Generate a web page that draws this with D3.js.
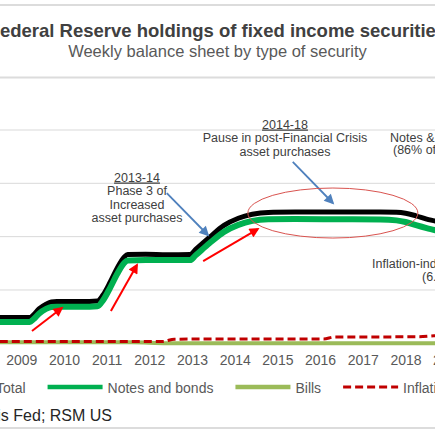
<!DOCTYPE html>
<html>
<head>
<meta charset="utf-8">
<script src="https://cdn.jsdelivr.net/npm/d3@7"></script>
<style>
  html, body { margin: 0; padding: 0; background: #fff; overflow: hidden; }
  svg { display: block; font-family: "Liberation Sans", Arial, sans-serif; }
</style>
</head>
<body>
<svg class="chart" width="435" height="435"></svg>
<script>
// weekly holdings ($ billions)
const dates = ['2008-07-01','2009-03-15','2009-04-15','2009-06-01','2009-08-01','2009-09-15','2009-11-01',
  '2010-06-01','2010-10-15','2010-12-01','2011-02-01','2011-04-01','2011-06-01','2011-07-01','2011-12-01',
  '2012-06-01','2012-12-15','2013-02-01','2013-06-01','2013-10-01','2014-02-01','2014-06-01','2014-10-15',
  '2015-06-01','2016-06-01','2017-06-01','2017-10-15','2018-01-01','2018-04-01','2018-07-01','2018-09-15','2018-12-01'];
const total = [485,485,535,645,735,775,782,782,795,905,1150,1410,1620,1665,1670,1660,1665,1760,1990,2210,
  2345,2420,2455,2460,2462,2463,2458,2440,2390,2330,2290,2240];
const notesBonds = [400,400,450,555,645,680,685,685,695,805,1045,1300,1510,1555,1560,1560,1560,1650,1880,2090,
  2220,2295,2325,2330,2326,2322,2305,2275,2215,2160,2120,2070];
const billDates = ['2008-07-01','2011-08-01','2012-06-01','2018-12-01'];
const bills = [18,18,0,0];
const tipsDates = ['2008-07-01','2012-05-01','2012-08-01','2016-02-01','2016-05-01','2018-05-01','2018-09-01','2018-12-01'];
const tips = [32,35,78,80,118,122,140,150];

const years = [2008,2009,2010,2011,2012,2013,2014,2015,2016,2017,2018,2019];
const yTicks = [0,1000,2000,3000,4000];

const svg = d3.select('.chart');
const width = +svg.attr('width');
const parse = d3.timeParse('%Y-%m-%d');
const yearDate = y => new Date(Math.floor(y), 0, 1).getTime() + (y % 1) * 365.25 * 864e5;

const x = d3.scaleTime()
  .domain([new Date(2009, 0, 1), new Date(2018, 0, 1)])
  .range([21.3, 405.5]);
const y = d3.scaleLinear()
  .domain([0, 4000])
  .range([343.3, 130]);

// separators round the title and the footer
[5, 77.5, 428].forEach(v => {
  svg.append('line').attr('x1', 0).attr('x2', width).attr('y1', v).attr('y2', v)
    .attr('stroke', '#dcdcdc').attr('stroke-width', 2);
});

svg.append('text')
  .attr('x', 217.4).attr('y', 36.5)
  .attr('text-anchor', 'middle')
  .attr('font-size', 18.5).attr('font-weight', 'bold').attr('fill', '#404040')
  .text('Federal Reserve holdings of fixed income securities');
svg.append('text')
  .attr('x', 217.5).attr('y', 56.5)
  .attr('text-anchor', 'middle')
  .attr('font-size', 16.5).attr('fill', '#595959')
  .text('Weekly balance sheet by type of security');

// gridlines
svg.append('g')
  .selectAll('line')
  .data(yTicks.slice(1))
  .join('line')
  .attr('x1', 0).attr('x2', width)
  .attr('y1', d => y(d)).attr('y2', d => y(d))
  .attr('stroke', '#d9d9d9').attr('stroke-width', 1);

// x axis labels
const xAxis = svg.append('g')
  .attr('transform', `translate(0, ${y(0)})`)
  .call(d3.axisBottom(x)
    .tickValues(years.map(v => new Date(v, 0, 1)))
    .tickFormat(d3.timeFormat('%Y'))
    .tickSize(0)
    .tickPadding(12));
xAxis.select('.domain').remove();
xAxis.selectAll('text')
  .attr('font-family', '"Liberation Sans", Arial, sans-serif')
  .attr('font-size', 14).attr('fill', '#595959')
  .attr('dy', '0.71em');

const line = d3.line()
  .x(d => x(d[0]))
  .y(d => y(d[1]))
  .curve(d3.curveMonotoneX);

const series = [
  { name: 'Total', pts: dates.map((d, i) => [parse(d), total[i]]), color: '#000000', w: 5, legendW: 4.5 },
  { name: 'Notes and bonds', pts: dates.map((d, i) => [parse(d), notesBonds[i]]), color: '#00b050', w: 6, legendW: 4.5 },
  { name: 'Bills', pts: billDates.map((d, i) => [parse(d), bills[i]]), color: '#9bbb59', w: 4, legendW: 4.5 },
  { name: 'Inflation-indexed', pts: tipsDates.map((d, i) => [parse(d), tips[i]]), color: '#c00000', w: 3, legendW: 3, dash: '8,4' }
];

svg.append('g')
  .selectAll('path')
  .data(series)
  .join('path')
  .attr('d', d => line(d.pts))
  .attr('fill', 'none')
  .attr('stroke', d => d.color)
  .attr('stroke-width', d => d.w)
  .attr('stroke-dasharray', d => d.dash || null)
  .attr('stroke-linejoin', 'round');

// annotations
const defs = svg.append('defs');
[['red', '#ff0000'], ['blue', '#4f81bd']].forEach(([id, c]) => {
  defs.append('marker')
    .attr('id', 'head-' + id)
    .attr('viewBox', '0 0 10 10')
    .attr('refX', 8).attr('refY', 5)
    .attr('markerWidth', 11).attr('markerHeight', 10)
    .attr('markerUnits', 'userSpaceOnUse')
    .attr('orient', 'auto')
    .append('path').attr('d', 'M0,0L10,5L0,10z').attr('fill', c);
});

const arrows = [
  { c: 'red', from: [2009.25, 231], to: [2009.95, 662] },
  { c: 'red', from: [2011.10, 606], to: [2011.71, 1468] },
  { c: 'red', from: [2013.26, 1543], to: [2014.54, 2143] },
  { c: 'blue', from: [2012.41, 2818], to: [2013.37, 2031] },
  { c: 'blue', from: [2015.36, 3400], to: [2016.30, 2631] }
];
svg.append('g')
  .selectAll('line')
  .data(arrows)
  .join('line')
  .attr('x1', d => x(yearDate(d.from[0]))).attr('y1', d => y(d.from[1]))
  .attr('x2', d => x(yearDate(d.to[0]))).attr('y2', d => y(d.to[1]))
  .attr('stroke', d => d.c == 'red' ? '#ff0000' : '#4f81bd')
  .attr('stroke-width', d => d.c == 'red' ? 2 : 1.8)
  .attr('marker-end', d => `url(#head-${d.c})`);

// the 2014-18 plateau ring
const cx = x(yearDate(2016.30)), cy = y(2443);
svg.append('ellipse')
  .attr('cx', cx).attr('cy', cy)
  .attr('rx', x(yearDate(2018.29)) - cx).attr('ry', cy - y(2912))
  .attr('fill', 'none').attr('stroke', '#d9534f').attr('stroke-width', 1);

const notes = [
  { x: 137, y: 181.5, t: '2013-14', u: true, a: 'middle' },
  { x: 137, y: 195, t: 'Phase 3 of', a: 'middle' },
  { x: 137, y: 208.5, t: 'Increased', a: 'middle' },
  { x: 137, y: 222, t: 'asset purchases', a: 'middle' },
  { x: 285, y: 128.5, t: '2014-18', u: true, a: 'middle' },
  { x: 285, y: 142, t: 'Pause in post-Financial Crisis', a: 'middle' },
  { x: 285, y: 155.5, t: 'asset purchases', a: 'middle' },
  { x: 390, y: 141.5, t: 'Notes & bonds', a: 'start' },
  { x: 393, y: 154, t: '(86% of total)', a: 'start' },
  { x: 372, y: 268, t: 'Inflation-indexed', a: 'start' },
  { x: 422, y: 281, t: '(6.3% of total)', a: 'start' }
];
svg.append('g')
  .selectAll('text')
  .data(notes)
  .join('text')
  .attr('x', d => d.x).attr('y', d => d.y)
  .attr('text-anchor', d => d.a)
  .attr('font-size', 12.5).attr('fill', '#404040')
  .attr('text-decoration', d => d.u ? 'underline' : null)
  .text(d => d.t);

// legend
const legend = svg.append('g').attr('transform', 'translate(0, 387)');
let lx = -64;
series.forEach(s => {
  legend.append('line')
    .attr('x1', lx).attr('x2', lx + 55)
    .attr('stroke', s.color).attr('stroke-width', s.legendW)
    .attr('stroke-dasharray', s.dash || null);
  const t = legend.append('text')
    .attr('x', lx + 60).attr('y', 5.5)
    .attr('font-size', 14).attr('fill', '#595959')
    .text(s.name);
  lx += 60 + t.node().getComputedTextLength() + 22;
});

svg.append('text')
  .attr('x', 112).attr('y', 421)
  .attr('text-anchor', 'end')
  .attr('font-size', 16).attr('fill', '#262626')
  .text('Source: St. Louis Fed; RSM US');
</script>
</body>
</html>
